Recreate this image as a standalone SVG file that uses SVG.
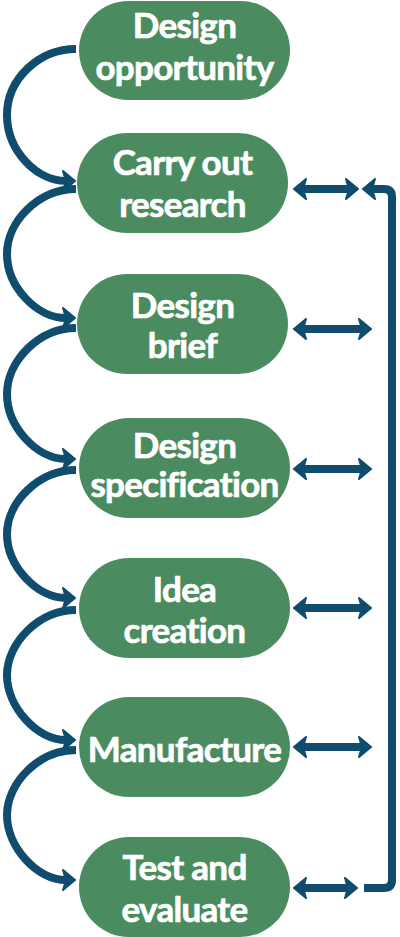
<svg xmlns="http://www.w3.org/2000/svg" width="400" height="937" viewBox="0 0 400 937">
<defs>
<style>
.node rect{fill:#4a8c60}
.node text{fill:#ffffff;stroke:#ffffff;stroke-width:0.7px;font-family:Lato,"Open Sans",sans-serif;font-weight:700;font-size:35px;text-anchor:middle;letter-spacing:-0.7px}
.conn path{fill:none;stroke:#0f4c6e;stroke-width:8;stroke-linecap:butt;stroke-linejoin:round}
</style>
<marker id="ah" markerUnits="userSpaceOnUse" markerWidth="16" markerHeight="26" viewBox="0 -13 16 26" refX="4" refY="0" orient="auto-start-reverse">
<path d="M1,-10 L13,0 L1,10 L4,0 Z" fill="#0f4c6e" stroke="#0f4c6e" stroke-width="2" stroke-linejoin="round"/>
</marker>
</defs>
<rect width="400" height="937" fill="#ffffff"/>
<g id="connectors" class="conn">
<path d="M76,49 C39,49 7,79 7,115 C7,151 37,181 66,181" marker-end="url(#ah)"/>
<path d="M76,189 C39,189 7,221 7,254 C7,287 37,318 66,318" marker-end="url(#ah)"/>
<path d="M76,328 C39,328 7,361 7,394 C7,427 37,459 66,459" marker-end="url(#ah)"/>
<path d="M76,470 C39,470 7,502 7,534 C7,566 37,598 66,598" marker-end="url(#ah)"/>
<path d="M76,610 C39,610 7,643 7,675 C7,707 37,740 66,740" marker-end="url(#ah)"/>
<path d="M76,750 C39,750 7,783 7,815 C7,847 37,880 66,880" marker-end="url(#ah)"/>
<path d="M303,189 L349,189" marker-start="url(#ah)" marker-end="url(#ah)"/>
<path d="M303,329 L362,329" marker-start="url(#ah)" marker-end="url(#ah)"/>
<path d="M303,469 L362,469" marker-start="url(#ah)" marker-end="url(#ah)"/>
<path d="M303,608 L362,608" marker-start="url(#ah)" marker-end="url(#ah)"/>
<path d="M303,747 L362,747" marker-start="url(#ah)" marker-end="url(#ah)"/>
<path d="M303,888 L348,888" marker-start="url(#ah)" marker-end="url(#ah)"/>
<path d="M364,888 L384,888 Q392,888 392,880 L392,197 Q392,189 384,189 L372,189" marker-end="url(#ah)"/>
</g>
<g id="node-design-opportunity" class="node">
<rect x="79" y="1" width="211" height="99" rx="49.5"/>
<text x="184.5" y="38">Design</text>
<text x="184.5" y="80">opportunity</text>
</g>
<g id="node-carry-out-research" class="node">
<rect x="77" y="133" width="211" height="100" rx="50"/>
<text x="182.5" y="175">Carry out</text>
<text x="182.5" y="217">research</text>
</g>
<g id="node-design-brief" class="node">
<rect x="77" y="274" width="211" height="100" rx="50"/>
<text x="182.5" y="318">Design</text>
<text x="182.5" y="358">brief</text>
</g>
<g id="node-design-specification" class="node">
<rect x="79" y="418" width="211" height="100" rx="50"/>
<text x="184.5" y="458">Design</text>
<text x="184.5" y="497">specification</text>
</g>
<g id="node-idea-creation" class="node">
<rect x="79" y="558" width="211" height="100" rx="50"/>
<text x="184.5" y="602">Idea</text>
<text x="184.5" y="643">creation</text>
</g>
<g id="node-manufacture" class="node">
<rect x="79" y="697" width="211" height="100" rx="50"/>
<text x="184.5" y="762">Manufacture</text>
</g>
<g id="node-test-and-evaluate" class="node">
<rect x="79" y="837" width="211" height="100" rx="50"/>
<text x="184.5" y="880">Test and</text>
<text x="184.5" y="922">evaluate</text>
</g>
</svg>
